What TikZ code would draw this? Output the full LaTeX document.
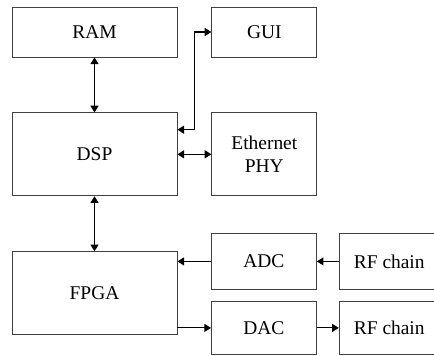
\documentclass[tikz,border=0pt]{standalone}
\usepackage{fontspec}
\setmainfont{Liberation Serif}
\usepackage{tikz}
\usetikzlibrary{positioning,arrows.meta}
\definecolor{boxline}{HTML}{404040}

\begin{document}
\begin{tikzpicture}[
      x=0.03cm, y=-0.03cm,
      every node/.style={font=\fontsize{16.6}{20}\selectfont},
      blk/.style={
        draw=boxline,
        line width=0.7pt,
        inner sep=0pt,
        align=center,
        minimum height=2.49cm
      },
      wide/.style={blk, minimum width=4.95cm},
      narrow/.style={blk, minimum width=3.15cm},
      flow/.style={line width=0.9pt, -{Triangle[length=0.2cm,width=0.24cm]}},
      twoway/.style={line width=0.9pt,
        {Triangle[length=0.2cm,width=0.24cm]}-{Triangle[length=0.2cm,width=0.24cm]}}
    ]
      \useasboundingbox (0,0) rectangle (434,356);
      \node[wide, minimum height=1.5cm] (ram) at (94.5,32) {RAM};
      \node[narrow, minimum height=1.5cm, right=1.02cm of ram] (gui) {GUI};
      \node[wide, below=1.65cm of ram] (dsp) {DSP};
      \node[narrow, right=1.02cm of dsp] (eth) {Ethernet\\PHY};
      \node[wide, below=1.65cm of dsp] (fpga) {FPGA};
      \node[narrow, minimum height=1.68cm, anchor=north west] (adc) at (211,233) {ADC};
      \node[narrow, minimum height=1.6cm, below=0.33cm of adc] (dac) {DAC};
      \node[blk, minimum width=3cm, minimum height=1.68cm, right=0.66cm of adc] (rfin) {RF chain};
      \node[blk, minimum width=3cm, minimum height=1.6cm, right=0.66cm of dac] (rfout) {RF chain};
      % links
      \draw[twoway] (ram) -- (dsp);
      \draw[twoway] ([yshift=0.74cm]dsp.east) -- ++(0.5cm,0) |- (gui.west);
      \draw[twoway] (dsp.east) -- (eth.west);
      \draw[twoway] (dsp) -- (fpga);
      \draw[flow] (adc.west) -- (adc.west -| fpga.east);
      \draw[flow] (rfin.west) -- (adc.east);
      \draw[flow] (dac.west -| fpga.east) -- (dac.west);
      \draw[flow] (dac.east) -- (rfout.west);
    \end{tikzpicture}
\end{document}
